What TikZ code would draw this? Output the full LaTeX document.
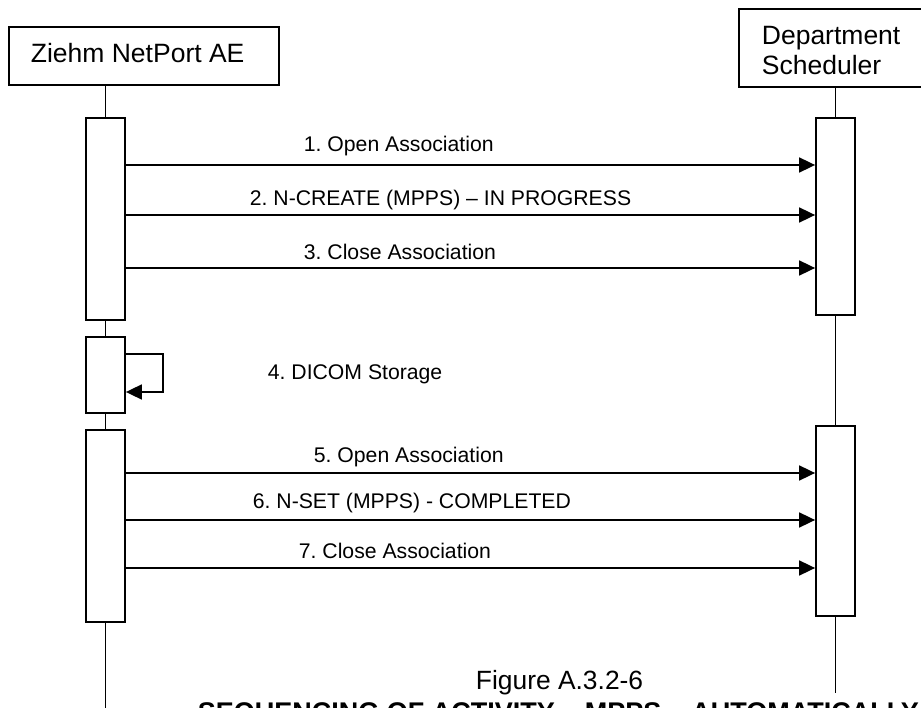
\documentclass[tikz,border=0pt]{standalone}
\usepackage{fontspec}
\setmainfont{Liberation Sans}
\usetikzlibrary{arrows.meta}
\frenchspacing
\begin{document}
\begin{tikzpicture}[x=1pt,y=-1pt,line width=1.8pt,
  headbox/.style={draw,fill=white,inner sep=0pt},
  actbox/.style={draw,fill=white,inner sep=0pt,minimum width=39pt},
  msg/.style={-{Triangle[length=16pt,width=15pt]}},
  lbl/.style={anchor=base west,inner sep=0pt,font=\fontsize{21.2}{25}\selectfont},
  hdr/.style={anchor=base west,inner sep=0pt,font=\fontsize{26.5}{30}\selectfont},
  captext/.style={anchor=base west,inner sep=0pt,font=\fontsize{26.4}{30}\selectfont}]
\useasboundingbox (0,0) rectangle (921,708);

% header boxes
\node[headbox,minimum width=270pt,minimum height=58pt] (lh) at (144,56) {};
\node[hdr] (lht) at (30,63) {Ziehm NetPort AE};
\node[headbox,minimum width=194pt,minimum height=78pt] (rh) at (836,48) {};
\node[hdr] (rht1) at (761,45) {Department};
\node[hdr] (rht2) at (761,75) {Scheduler};

% activation boxes
\node[actbox,minimum height=202pt] (la1) at (105.5,219) {};
\node[actbox,minimum height=76pt] (la2) at (105.5,375) {};
\node[actbox,minimum height=192pt] (la3) at (105.5,526) {};
\node[actbox,minimum height=197pt] (ra1) at (835.5,216.5) {};
\node[actbox,minimum height=190pt] (ra2) at (835.5,521) {};

\coordinate (lend) at (105.5,712);
\coordinate (rend) at (835.5,693);

% lifelines
\draw (lh.south -| la1.north) -- (la1.north);
\draw (la1.south) -- (la2.north);
\draw (la2.south) -- (la3.north);
\draw (la3.south) -- (lend);
\draw (rh.south -| ra1.north) -- (ra1.north);
\draw (ra1.south) -- (ra2.north);
\draw (ra2.south) -- (rend);

% messages
\draw[msg] (la1.east |- 0,165) -- (ra1.west |- 0,165);
\draw[msg] (la1.east |- 0,215) -- (ra1.west |- 0,215);
\draw[msg] (la1.east |- 0,268) -- (ra1.west |- 0,268);
\draw[msg] (la2.east |- 0,354) -- (163,354) -- (163,392) -- (la2.east |- 0,392);
\draw[msg] (la3.east |- 0,473) -- (ra2.west |- 0,473);
\draw[msg] (la3.east |- 0,520) -- (ra2.west |- 0,520);
\draw[msg] (la3.east |- 0,568) -- (ra2.west |- 0,568);

% labels
\node[lbl] (l1) at (303,152) {1. Open Association};
\node[lbl] (l2) at (249,206) {2. N-CREATE (MPPS) – IN PROGRESS};
\node[lbl] (l3) at (303,260) {3. Close Association};
\node[lbl] (l4) at (267,380) {4. DICOM Storage};
\node[lbl] (l5) at (313,462) {5. Open Association};
\node[lbl] (l6) at (252,508) {6. N-SET (MPPS) - COMPLETED};
\node[lbl] (l7) at (298,558) {7. Close Association};

% caption
\node[captext] (c1) at (475,689) {Figure A.3.2-6};
\node[captext,font=\fontsize{27}{30}\selectfont\bfseries] (c2) at (197,721) {SEQUENCING OF ACTIVITY – MPPS – AUTOMATICALLY};
\end{tikzpicture}
\end{document}
